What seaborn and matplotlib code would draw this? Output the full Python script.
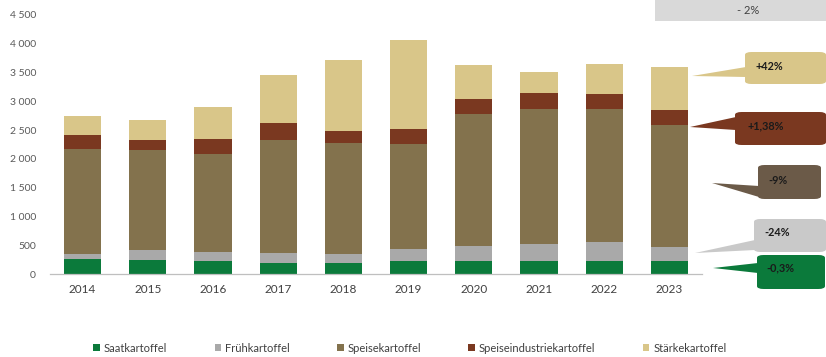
import matplotlib
matplotlib.use("Agg")
import matplotlib.pyplot as plt
from matplotlib.patches import FancyBboxPatch, Polygon, Rectangle, Patch
from matplotlib.ticker import FuncFormatter
import seaborn as sns
import pandas as pd
import numpy as np

# Anbauflächen / Erntemengen nach Verwendung (in 1 000)
years = ["2014", "2015", "2016", "2017", "2018", "2019", "2020", "2021", "2022", "2023"]
saatkartoffel = [260, 243, 226, 196, 184, 231, 231, 231, 231, 231]
fruehkartoffel = [87, 174, 149, 169, 163, 203, 260, 290, 318, 231]
speisekartoffel = [1833, 1736, 1708, 1961, 1933, 1823, 2297, 2344, 2316, 2125]
speiseindustriekartoffel = [233, 179, 261, 289, 210, 260, 261, 277, 270, 260]
staerkekartoffel = [335, 347, 561, 840, 1230, 1551, 579, 376, 511, 753]

series_names = ["Saatkartoffel", "Frühkartoffel", "Speisekartoffel",
                "Speiseindustriekartoffel", "Stärkekartoffel"]
series_values = [saatkartoffel, fruehkartoffel, speisekartoffel,
                 speiseindustriekartoffel, staerkekartoffel]
colors = ["#0b7a3b", "#a9a9a9", "#83724d", "#7a3820", "#d9c689"]

# Veränderung 2023 gegenüber Vorjahren
total_change = "- 2%"
callout_labels = ["-0,3%", "-24%", "-9%", "+1,38%", "+42%"]

W, H = 826, 357
sns.set_theme(style="white")
plt.rcParams["font.family"] = ["Lato", "DejaVu Sans"]

fig = plt.figure(figsize=(W / 100, H / 100), dpi=100)
ax = fig.add_axes([50 / W, 1 - 274 / H, 652 / W, (274 - 15) / H])

# Stacked bars: draw cumulative totals from the top layer down
cum = np.cumsum(np.array(series_values), axis=0)
for i in range(len(series_names) - 1, -1, -1):
    df = pd.DataFrame({"Jahr": years, "Wert": cum[i]})
    sns.barplot(data=df, x="Jahr", y="Wert", color=colors[i], saturation=1,
                width=0.57, linewidth=0, edgecolor="none", ax=ax, errorbar=None)

ax.set_xlim(-0.5, len(years) - 0.5)
ax.set_ylim(0, 4500)
ax.set_yticks(np.arange(0, 4501, 500))
ax.yaxis.set_major_formatter(FuncFormatter(lambda v, p: f"{int(v):,}".replace(",", " ")))
ax.set_xlabel("")
ax.set_ylabel("")
for s in ["top", "right", "left"]:
    ax.spines[s].set_visible(False)
ax.spines["bottom"].set_color("#bfbfbf")
ax.spines["bottom"].set_linewidth(0.9)
ax.tick_params(axis="y", length=0, pad=10, labelsize=7.5, labelcolor="#595959")
ax.tick_params(axis="x", length=0, pad=7, labelsize=8.5, labelcolor="#404040")


def fpx(x, y):
    return (x / W, 1 - y / H)


def callout(box, tip, base, color, text, tcolor, tx, ty, bold=True):
    x0, y0, x1, y1 = box
    bl = fpx(x0, y1)
    fig.patches.append(FancyBboxPatch(bl, (x1 - x0) / W, (y1 - y0) / H,
                                      boxstyle="round,pad=0,rounding_size=0.008",
                                      transform=fig.transFigure, facecolor=color,
                                      edgecolor="none", zorder=3))
    fig.patches.append(Polygon([fpx(*tip), fpx(base[0], base[1]), fpx(base[0], base[2])],
                               closed=True, transform=fig.transFigure,
                               facecolor=color, edgecolor="none", zorder=3))
    fig.text(*fpx(tx, ty), text, color=tcolor, fontsize=7.8,
             fontweight="bold" if bold else "normal", ha="left", va="center", zorder=4)


# Gesamtveränderung
fig.patches.append(Rectangle(fpx(655, 21), (W - 655) / W, 21 / H,
                             transform=fig.transFigure, facecolor="#d9d9d9",
                             edgecolor="none", zorder=3))
fig.text(*fpx(748, 10), total_change, color="#404040", fontsize=8,
         ha="center", va="center", zorder=4)

# Veränderungen je Verwendung
callout((745, 52, 826, 84), (692, 76), (746, 67, 77), colors[4], callout_labels[4], "#1a1a1a", 756, 67)
callout((735, 112, 826, 145), (690, 127), (736, 117, 130), colors[3], callout_labels[3], "#1a1a1a", 747, 126)
callout((758, 165, 821, 199), (712, 183), (759, 186, 197), "#6b5a48", callout_labels[2], "#1a1a1a", 768, 180)
callout((754, 219, 826, 252), (695, 253), (755, 240, 250), "#c9c9c9", callout_labels[1], "#1a1a1a", 764, 233)
callout((757, 255, 825, 289), (713, 268), (758, 263, 273), "#0b7a3b", callout_labels[0], "#1a1a1a", 766, 268)

handles = [Patch(facecolor=c, edgecolor="none") for c in colors]
fig.legend(handles, series_names, loc="center", bbox_to_anchor=fpx(410, 348),
           ncol=5, frameon=False, fontsize=8, labelcolor="#404040",
           handlelength=0.6, handleheight=0.6, handletextpad=0.35, columnspacing=4.25)

fig.savefig("out.png", dpi=100)
